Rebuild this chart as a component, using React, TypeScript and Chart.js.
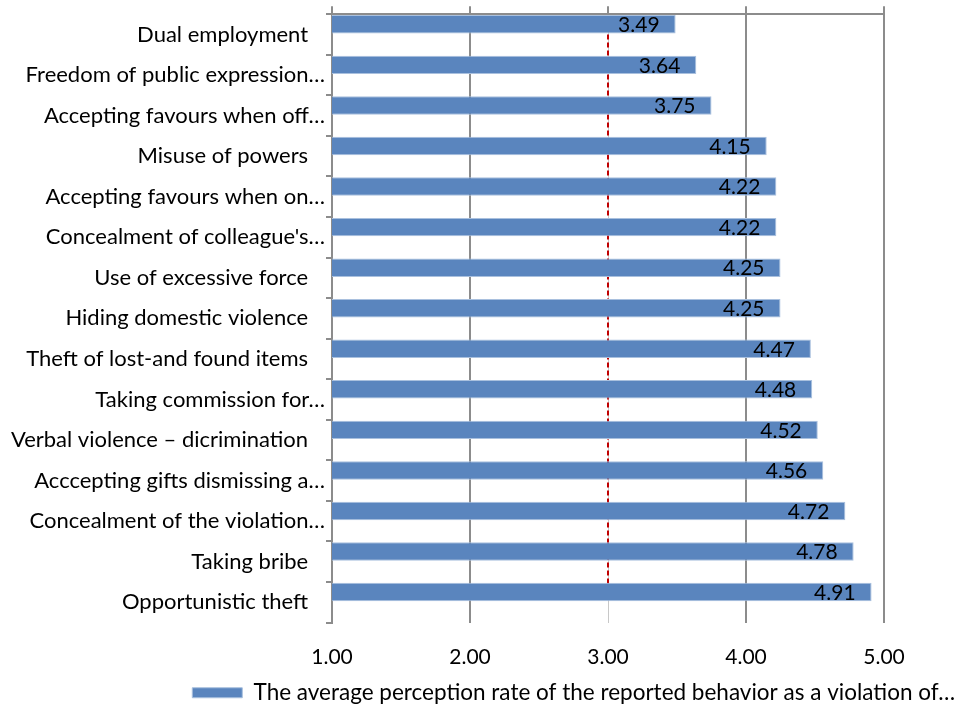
import React, { useEffect, useRef } from "react";
import { Chart, registerables } from "chart.js";

Chart.register(...registerables);

const categories = [
  "Dual employment   ",
  "Freedom of public expression…",
  "Accepting favours when off…",
  "Misuse of powers   ",
  "Accepting favours when on…",
  "Concealment of colleague's…",
  "Use of excessive force   ",
  "Hiding domestic violence   ",
  "Theft of lost-and found items   ",
  "Taking commission for…",
  "Verbal violence – dicrimination   ",
  "Acccepting gifts dismissing a…",
  "Concealment of the violation…",
  "Taking bribe   ",
  "Opportunistic theft   ",
];

const averageRates = [3.49, 3.64, 3.75, 4.15, 4.22, 4.22, 4.25, 4.25, 4.47, 4.48, 4.52, 4.56, 4.72, 4.78, 4.91];
const thresholdValue = 3;
const thresholdLine = categories.map(() => thresholdValue);
const emptySeries = categories.map(() => null);
const xTicks = [1, 2, 3, 4, 5];
const legendLabel = "The average perception rate of the reported behavior as a violation of…";

const FONT = "Lato, 'Open Sans', sans-serif";
const GRID = "#8c8c8c";

export default function App() {
  const ref = useRef<HTMLCanvasElement | null>(null);

  useEffect(() => {
    document.body.style.margin = "0";
    const canvas = ref.current;
    if (!canvas) return;

    const valueLabels = {
      id: "valueLabels",
      afterDatasetsDraw(chart: any) {
        const meta = chart.getDatasetMeta(0);
        const ctx = chart.ctx;
        ctx.save();
        ctx.font = `21px ${FONT}`;
        ctx.fillStyle = "#000";
        ctx.textAlign = "right";
        ctx.textBaseline = "middle";
        meta.data.forEach((el: any, i: number) => {
          ctx.fillText(averageRates[i].toFixed(2), el.x - 16, el.y + 1);
        });
        ctx.restore();
      },
    };

    const chart = new Chart(canvas, {
      type: "bar",
      data: {
        labels: categories,
        datasets: [
          {
            type: "bar",
            label: legendLabel,
            data: averageRates,
            backgroundColor: "#5a85be",
            borderColor: "#a9c0de",
            borderWidth: 1,
            order: 0,
            categoryPercentage: 1,
            barPercentage: 0.91,
          } as any,
          {
            type: "bar",
            label: "_empty",
            data: emptySeries,
            backgroundColor: "transparent",
            order: 0,
            categoryPercentage: 1,
            barPercentage: 0.91,
          } as any,
          {
            type: "line",
            label: "_threshold",
            data: thresholdLine,
            borderColor: "#c00000",
            borderWidth: 2,
            borderDash: [5, 3],
            pointRadius: 0,
            fill: false,
            order: 1,
          } as any,
        ],
      },
      options: {
        indexAxis: "y",
        responsive: false,
        animation: false,
        devicePixelRatio: 1,
        layout: { padding: { top: 6, right: 0, left: 0, bottom: -8 } },
        scales: {
          x: {
            type: "linear",
            position: "bottom",
            min: 1,
            max: 5,
            afterBuildTicks: (s: any) => {
              s.ticks = xTicks.map((v) => ({ value: v }));
            },
            afterFit: (s: any) => {
              s.height = 51;
            },
            ticks: {
              callback: (v: any) => Number(v).toFixed(2),
              font: { family: FONT, size: 21 },
              color: "#000",
              padding: 22,
              maxRotation: 0,
            },
            grid: {
              drawTicks: false,
              color: (c: any) => (c.tick && c.tick.value === 3 ? "#c8c8c8" : GRID),
              lineWidth: (c: any) => (c.tick && c.tick.value === 3 ? 1 : 2),
            },
            border: { display: false },
          },
          x2: {
            type: "linear",
            position: "top",
            min: 1,
            max: 5,
            afterBuildTicks: (s: any) => {
              s.ticks = xTicks.map((v) => ({ value: v }));
            },
            ticks: { display: false },
            grid: {
              drawOnChartArea: false,
              drawTicks: true,
              tickLength: 8,
              color: GRID,
              lineWidth: 2,
            },
            border: { display: true, color: GRID, width: 2 },
          },
          y: {
            type: "category",
            offset: true,
            afterFit: (s: any) => {
              s.width = 332;
            },
            ticks: {
              font: { family: FONT, size: 22 },
              color: "#000",
              padding: 1,
              autoSkip: false,
            },
            grid: {
              offset: true,
              drawOnChartArea: false,
              drawTicks: true,
              tickLength: 6,
              color: GRID,
              lineWidth: 2,
            },
            border: { display: true, color: GRID, width: 2 },
          },
          yRight: {
            type: "category",
            position: "right",
            afterFit: (s: any) => {
              s.width = 79;
            },
            ticks: { display: false },
            grid: { display: false, drawTicks: false },
            border: { display: false },
          },
        },
        plugins: {
          legend: {
            position: "bottom",
            align: "end",
            labels: {
              filter: (item: any) => !item.text.startsWith("_"),
              boxWidth: 50,
              boxHeight: 10,
              font: { family: FONT, size: 22.5 },
              color: "#000",
              padding: 8,
            },
          },
          tooltip: { enabled: false },
        },
      } as any,
      plugins: [valueLabels],
    });

    return () => chart.destroy();
  }, []);

  return (
    <div style={{ width: 963, height: 706, background: "#fff" }}>
      <canvas ref={ref} width={963} height={706} />
    </div>
  );
}
